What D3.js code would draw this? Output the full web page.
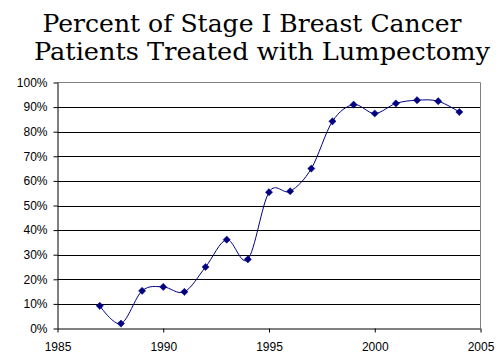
<!DOCTYPE html>
<html>
<head>
<meta charset="utf-8">
<script src="https://cdn.jsdelivr.net/npm/d3@7"></script>
<style>
  html, body { margin: 0; padding: 0; background: #fff; }
  svg { display: block; }
</style>
</head>
<body>
<svg id="chart" width="501" height="357"></svg>
<script>
const titleLines = ["Percent of Stage I Breast Cancer", "Patients Treated with Lumpectomy"];
const years = [1987, 1988, 1989, 1990, 1991, 1992, 1993, 1994, 1995, 1996, 1997, 1998, 1999, 2000, 2001, 2002, 2003, 2004];
const percents = [9.2, 2.0, 15.3, 16.9, 14.9, 25.0, 36.1, 28.1, 55.4, 55.8, 65.0, 84.2, 91.0, 87.4, 91.5, 92.8, 92.4, 88.0];
const xTicks = [1985, 1990, 1995, 2000, 2005];
const yTicks = [0, 10, 20, 30, 40, 50, 60, 70, 80, 90, 100];

const svg = d3.select("#chart");
const pLeft = 57.5, pRight = 480.5, pTop = 82.5, pBottom = 328.5;

const x = d3.scaleLinear().domain([1985, 2005]).range([pLeft, pRight]);
const y = d3.scaleLinear().domain([0, 100]).range([pBottom, pTop]);

// Title
const titleCenters = [252, 262];
const titleBaselines = [32, 60];
const titleWidths = [419, 456];
titleLines.forEach((t, i) => {
  svg.append("text")
    .attr("x", titleCenters[i])
    .attr("y", titleBaselines[i])
    .attr("text-anchor", "middle")
    .attr("font-family", "DejaVu Serif")
    .attr("font-size", 24)
    .attr("fill", "#000")
    .attr("textLength", titleWidths[i])
    .attr("lengthAdjust", "spacingAndGlyphs")
    .text(t);
});

// Gridlines
svg.append("g").selectAll("line")
  .data(yTicks.filter(d => d > 0 && d < 100))
  .join("line")
  .attr("x1", pLeft).attr("x2", pRight)
  .attr("y1", d => Math.round(y(d)) + 0.5).attr("y2", d => Math.round(y(d)) + 0.5)
  .attr("stroke", "#000").attr("stroke-width", 1);

// Plot border (top and right) gray
svg.append("path")
  .attr("d", `M${pLeft},${pTop}H${pRight}V${pBottom}`)
  .attr("fill", "none").attr("stroke", "#808080").attr("stroke-width", 1);

// Axes
const yAxis = d3.axisLeft(y).tickValues(yTicks).tickFormat(d => d + "%").tickSize(4).tickPadding(6);
const gy = svg.append("g").attr("transform", `translate(${pLeft},0)`).call(yAxis);
const xAxis = d3.axisBottom(x).tickValues(xTicks).tickFormat(d3.format("d")).tickSize(4).tickPadding(10);
const gx = svg.append("g").attr("transform", `translate(0,${pBottom})`).call(xAxis);
[gx, gy].forEach(g => {
  g.select(".domain").attr("stroke", "#000");
  g.selectAll(".tick line").attr("stroke", "#000");
  g.selectAll("text").attr("font-family", "Liberation Sans, Arial, sans-serif").attr("font-size", 12).attr("fill", "#000");
});
gx.select(".domain").attr("d", `M${pLeft},0.5H${pRight}`);
gy.select(".domain").attr("d", `M0.5,${pTop}V${pBottom}`);

// Line
const data = years.map((yr, i) => ({yr, v: percents[i]}));
const line = d3.line().x(d => x(d.yr)).y(d => y(d.v)).curve(d3.curveCardinal.tension(0));
svg.append("path").datum(data)
  .attr("d", line)
  .attr("fill", "none").attr("stroke", "#000080").attr("stroke-width", 1);

// Markers
svg.append("g").selectAll("path")
  .data(data)
  .join("path")
  .attr("transform", d => `translate(${x(d.yr)},${y(d.v)})`)
  .attr("d", "M0,-3.6L3.6,0L0,3.6L-3.6,0Z")
  .attr("fill", "#000080").attr("stroke", "#000080").attr("stroke-width", 0.5);
</script>
</body>
</html>
